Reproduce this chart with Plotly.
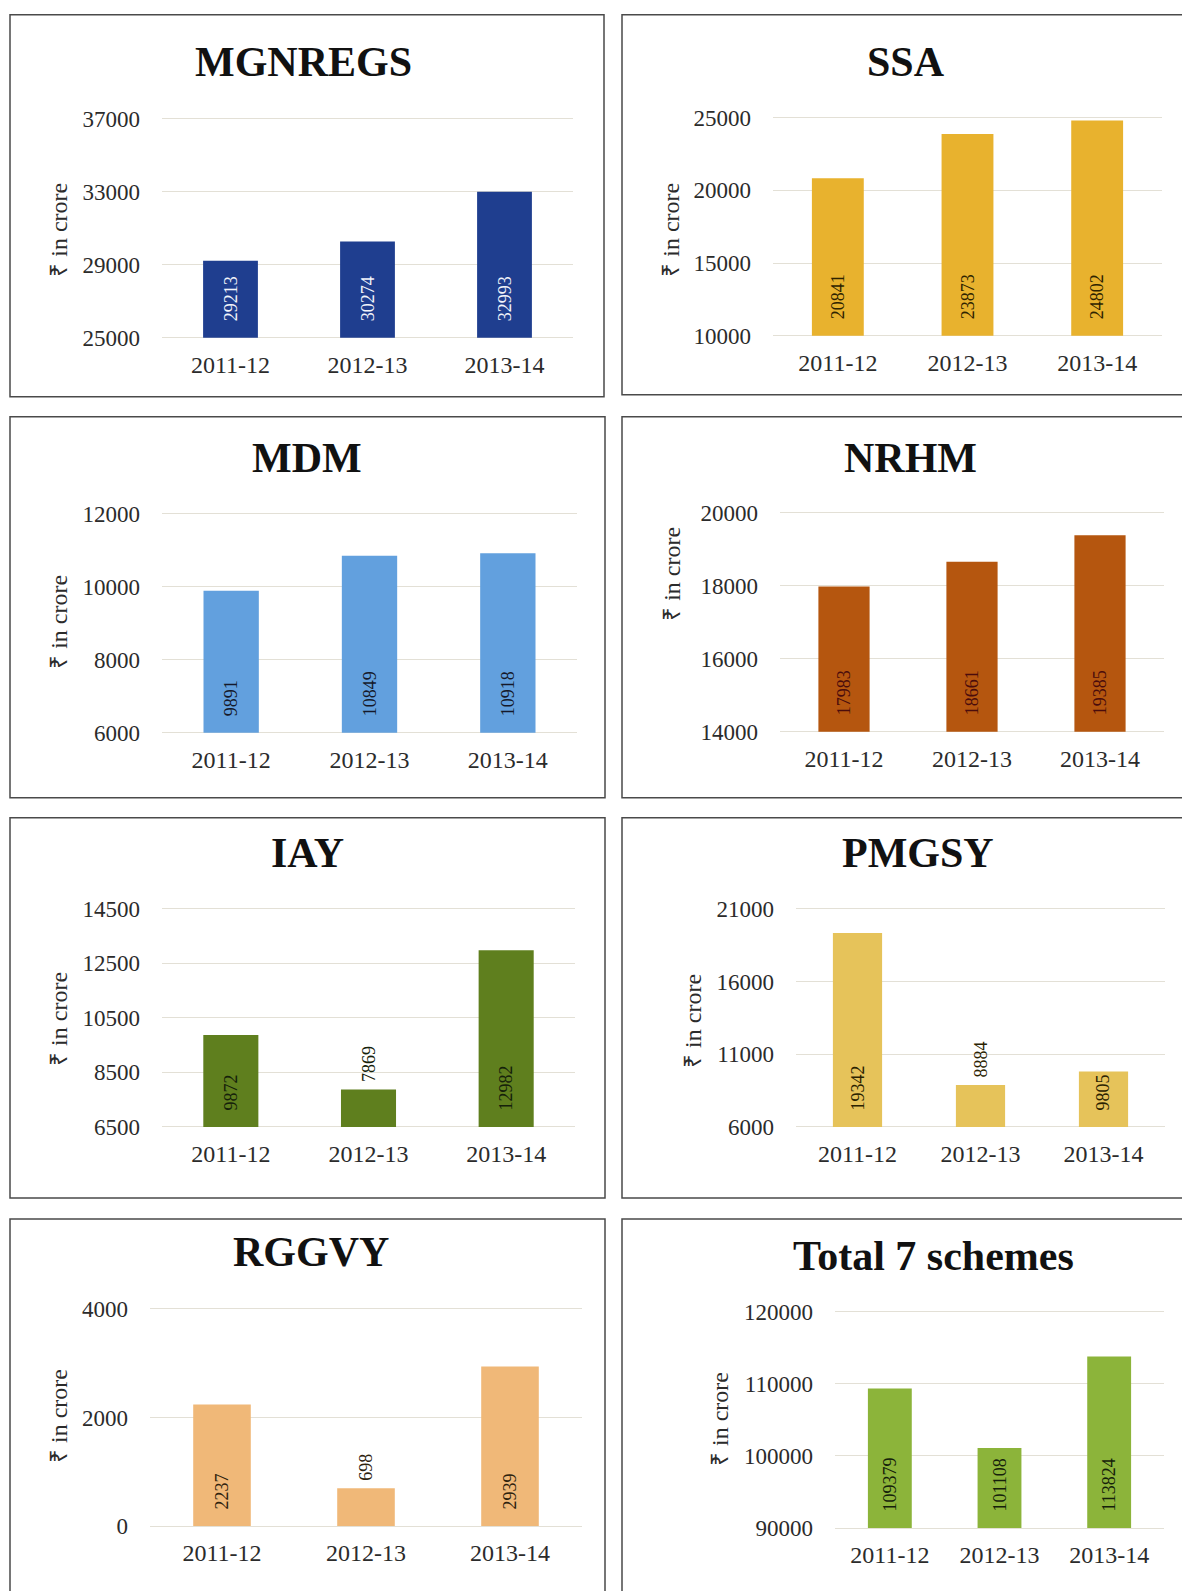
import plotly.graph_objects as go

W, H = 1182, 1610
# measured: the page shows layout y at TOP + SCALE * y in the photograph
TOP, SCALE = 8.3, 0.988

# data (Rs in crore)
years = ["2011-12", "2012-13", "2013-14"]
mgnregs = [29213, 30274, 32993]
ssa = [20841, 23873, 24802]
mdm = [9891, 10849, 10918]
nrhm = [17983, 18661, 19385]
iay = [9872, 7869, 12982]
pmgsy = [19342, 8884, 9805]
rggvy = [2237, 698, 2939]
total = [109379, 101108, 113824]

names = ["MGNREGS", "SSA", "MDM", "NRHM", "IAY", "PMGSY", "RGGVY", "Total 7 schemes"]
series = [mgnregs, ssa, mdm, nrhm, iay, pmgsy, rggvy, total]
y_ranges = [[25000, 37000], [10000, 25000], [6000, 12000], [14000, 20000],
            [6500, 14500], [6000, 21000], [0, 4000], [90000, 120000]]
y_steps = [4000, 5000, 2000, 2000, 2000, 5000, 2000, 10000]

# styling / placement per panel (pixels of the final picture)
bar_colors = ["#1F3E8F", "#E8B22E", "#62A0DE", "#B5560F",
              "#5F7F1E", "#E6C35A", "#F0B878", "#8CB43A"]
label_colors = ["#F2F4FA", "#2E2300", "#15192A", "#4A0C0C",
                "#15210A", "#2A2200", "#2E220E", "#15210A"]
plot_px = [(162, 573, 118, 337), (773, 1162, 117, 335),
           (162, 577, 513, 732), (780, 1164, 512, 731),
           (162, 575, 908, 1126), (796, 1165, 908, 1126),
           (150, 582, 1308, 1525), (835, 1164, 1311, 1527)]
box_px = [(10, 14, 604, 396), (622, 14, 1195, 394),
          (10, 416, 605, 797), (622, 416, 1195, 797),
          (10, 817, 605, 1197), (622, 817, 1195, 1197),
          (10, 1218, 605, 1610), (622, 1218, 1195, 1610)]
title_px = [(304, 61), (906, 61), (307, 457), (910, 457),
            (307, 852), (918, 852), (311, 1251), (933, 1255)]
ytitle_px = [(59, 229), (671, 229), (59, 621), (672, 573),
             (59, 1018), (693, 1020), (59, 1415), (720, 1418)]
text_pos = [["inside"] * 3] * 4 + [["inside", "outside", "inside"]] * 3 + [["inside"] * 3]

SERIF = "Liberation Serif, Times New Roman, serif"
PAD = 3  # px of extra range so the edge gridlines are drawn
NB = "\u00a0"


def px(x):
    return x / W


def py(y):
    return 1 - ((y - TOP) / SCALE) / H


fig = go.Figure()
layout = dict(width=W, height=H, margin=dict(l=0, r=0, t=0, b=0), autosize=False,
              paper_bgcolor="white", plot_bgcolor="white", showlegend=False,
              bargap=0.6, shapes=[], annotations=[])

for i in range(8):
    sfx = "" if i == 0 else str(i + 1)
    x0, x1, y0, y1 = plot_px[i]
    lo, hi = y_ranges[i]
    labels = [(NB * 3 if p == "inside" else NB) + str(v)
              for v, p in zip(series[i], text_pos[i])]
    fig.add_trace(go.Bar(
        x=years, y=[v - lo for v in series[i]], base=lo,
        xaxis="x" + sfx, yaxis="y" + sfx,
        marker=dict(color=bar_colors[i], line=dict(width=0)),
        text=labels, textposition=text_pos[i],
        insidetextanchor="start", textangle=-90,
        textfont=dict(family=SERIF, size=18, color=label_colors[i]),
        cliponaxis=False))
    per_px = (hi - lo) / (y1 - y0)
    layout["xaxis" + sfx] = dict(domain=[px(x0), px(x1)], anchor="y" + sfx, type="category",
                                 showgrid=False, showline=False, ticks="",
                                 tickfont=dict(family=SERIF, size=24, color="#2b2b2b"),
                                 ticklabelstandoff=7, fixedrange=True)
    layout["yaxis" + sfx] = dict(domain=[py(y1 + PAD), py(y0 - PAD)], anchor="x" + sfx,
                                 range=[lo - PAD * per_px, hi + PAD * per_px],
                                 tickvals=list(range(lo, hi + 1, y_steps[i])),
                                 tickformat="d", showgrid=True, gridcolor="#e3e0d6",
                                 gridwidth=1, zeroline=False, showline=False, ticks="",
                                 tickfont=dict(family=SERIF, size=23, color="#2b2b2b"),
                                 ticklabelstandoff=21, fixedrange=True)
    bx0, by0, bx1, by1 = box_px[i]
    layout["shapes"].append(dict(type="rect", xref="paper", yref="paper",
                                 x0=px(bx0), x1=px(bx1), y0=py(by1), y1=py(by0),
                                 line=dict(color="#4a4a4a", width=1.5)))
    tx, ty = title_px[i]
    layout["annotations"].append(dict(text="<b>" + names[i] + "</b>", xref="paper", yref="paper",
                                      x=px(tx), y=py(ty), showarrow=False,
                                      xanchor="center", yanchor="middle",
                                      font=dict(family=SERIF, size=42, color="#111")))
    ax, ay = ytitle_px[i]
    layout["annotations"].append(dict(text="₹ in crore", xref="paper", yref="paper",
                                      x=px(ax), y=py(ay), showarrow=False, textangle=-90,
                                      xanchor="center", yanchor="middle",
                                      font=dict(family=SERIF, size=24, color="#2b2b2b")))

fig.update_layout(**layout)
fig.write_html("out.html", config={"displayModeBar": False},
               post_script="document.body.style.margin='0';")
